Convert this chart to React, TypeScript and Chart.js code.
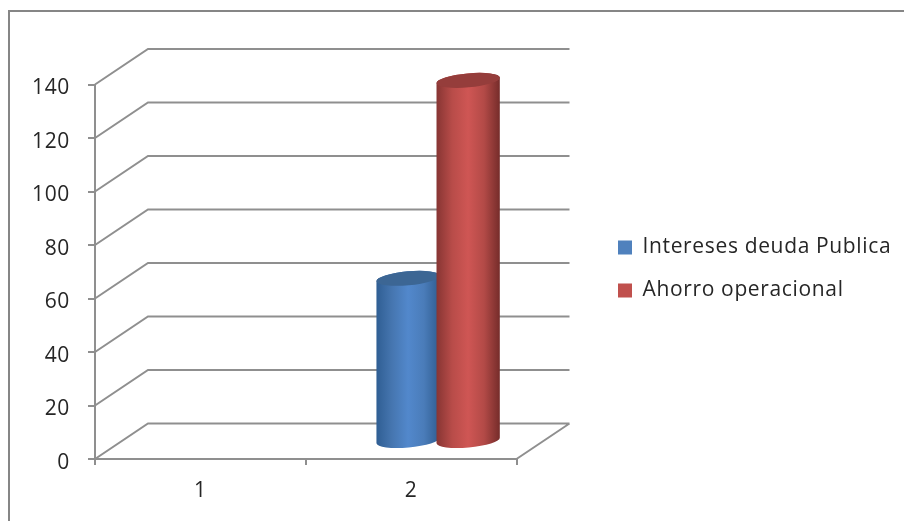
import React, { useEffect, useRef } from "react";
import { Chart, registerables } from "chart.js";

Chart.register(...registerables);

const categories = ["1", "2"];
const interesesDeuda = [null, 61];
const ahorroOperacional = [null, 135];
const seriesNames = ["Intereses deuda Publica", "Ahorro operacional"];
const seriesColors = ["#4f81bd", "#c0504d"];
const topColors = ["#3c6694", "#953d3b"];
const shades = [
  ["#2f5e93", "#4676b0", "#5288cc", "#4a7cb9", "#2f5c8f"],
  ["#873533", "#b84c49", "#cf5654", "#b34a47", "#752c2a"],
];

const LINE = "#8f8f8f";
const TEXT = "#262626";
const FONT = "Open Sans";
const DEPTH_X = 53;
const DEPTH_Y = 35.5;
const MID_X = 27;
const MID_Y = 17.5;
const ELLIPSE_RY = 7;
const ELLIPSE_TILT = -0.09;

const chart3d = {
  id: "chart3d",
  beforeDraw(chart: any) {
    const { ctx, width, height } = chart;
    ctx.save();
    ctx.fillStyle = "#ffffff";
    ctx.fillRect(0, 0, width, height);
    ctx.strokeStyle = "#868686";
    ctx.lineWidth = 2;
    ctx.beginPath();
    ctx.moveTo(9, height);
    ctx.lineTo(9, 11);
    ctx.lineTo(width, 11);
    ctx.stroke();
    ctx.restore();
    ctx.letterSpacing = "0.65px";
  },
  afterLayout(chart: any) {
    const legend = chart.legend;
    const h = legend.height;
    const pad = chart.options.plugins.legend.labels.padding;
    legend.left = 618 - pad;
    legend.right = chart.width;
    legend.width = legend.right - legend.left;
    legend.top = 240 - pad - 3;
    legend.bottom = legend.top + h;
  },
  beforeDatasetsDraw(chart: any) {
    const { ctx, chartArea, scales } = chart;
    ctx.save();
    ctx.strokeStyle = LINE;
    ctx.lineWidth = 2;
    ctx.lineCap = "butt";
    ctx.beginPath();
    for (const tick of scales.y.ticks) {
      const y = scales.y.getPixelForValue(tick.value);
      ctx.moveTo(chartArea.left, y);
      ctx.lineTo(chartArea.left + DEPTH_X, y - DEPTH_Y);
      ctx.lineTo(chartArea.right + DEPTH_X, y - DEPTH_Y);
    }
    const y0 = scales.y.getPixelForValue(0);
    ctx.moveTo(chartArea.right, y0);
    ctx.lineTo(chartArea.right + DEPTH_X, y0 - DEPTH_Y);
    ctx.stroke();
    ctx.restore();
  },
  beforeDatasetDraw() {
    return false;
  },
  afterDatasetsDraw(chart: any) {
    const { ctx } = chart;
    chart.data.datasets.forEach((_: any, i: number) => {
      chart.getDatasetMeta(i).data.forEach((bar: any, j: number) => {
        if (chart.data.datasets[i].data[j] == null) return;
        const { x, y, base, width } = bar;
        const rx = width / 2;
        const l = x - rx;
        ctx.save();
        ctx.translate(MID_X, -MID_Y);
        const g = ctx.createLinearGradient(l, 0, l + width, 0);
        shades[i].forEach((c: string, k: number) => g.addColorStop(k / (shades[i].length - 1), c));
        ctx.fillStyle = g;
        ctx.beginPath();
        ctx.ellipse(x, y, rx, ELLIPSE_RY, ELLIPSE_TILT, Math.PI, Math.PI * 2);
        ctx.ellipse(x, base, rx, ELLIPSE_RY, ELLIPSE_TILT, 0, Math.PI);
        ctx.closePath();
        ctx.fill();
        ctx.fillStyle = topColors[i];
        ctx.beginPath();
        ctx.ellipse(x, y, rx, ELLIPSE_RY, ELLIPSE_TILT, 0, Math.PI * 2);
        ctx.fill();
        ctx.restore();
      });
    });
  },
};

export default function App() {
  const ref = useRef<HTMLCanvasElement>(null);
  useEffect(() => {
    const chart = new Chart(ref.current as HTMLCanvasElement, {
      type: "bar",
      data: {
        labels: categories,
        datasets: [
          { label: seriesNames[0], data: interesesDeuda, backgroundColor: seriesColors[0], borderWidth: 0 },
          { label: seriesNames[1], data: ahorroOperacional, backgroundColor: seriesColors[1], borderWidth: 0 },
        ],
      } as any,
      options: {
        animation: false,
        responsive: false,
        devicePixelRatio: 1,
        categoryPercentage: 0.57,
        barPercentage: 1.058,
        layout: { padding: { left: 0, top: 84.5, right: 387.5, bottom: 0 } },
        plugins: {
          title: { display: false },
          tooltip: { enabled: false },
          legend: {
            position: "chartArea",
            align: "start",
            labels: {
              boxWidth: 14,
              boxHeight: 14,
              padding: 22,
              color: TEXT,
              font: { family: FONT, size: 21 },
            },
          },
        },
        scales: {
          x: {
            afterFit: (s: any) => { s.height = 62; },
            border: { color: LINE, width: 2 },
            grid: { drawOnChartArea: false, drawTicks: true, tickLength: 6, color: LINE, lineWidth: 2 },
            ticks: { color: TEXT, padding: 13.5, font: { family: FONT, size: 21 }, maxRotation: 0 },
          },
          y: {
            min: 0,
            max: 140,
            afterFit: (s: any) => { s.width = 95; },
            border: { color: LINE, width: 2 },
            grid: { drawOnChartArea: false, drawTicks: true, tickLength: 7, color: LINE, lineWidth: 2 },
            ticks: { stepSize: 20, color: TEXT, padding: 18, labelOffset: 4, font: { family: FONT, size: 21 } },
          },
        },
      } as any,
      plugins: [chart3d],
    });
    return () => chart.destroy();
  }, []);
  return (
    <div style={{ position: "absolute", left: 0, top: 0 }}>
      <canvas ref={ref} width={904} height={521} style={{ display: "block" }} />
    </div>
  );
}
